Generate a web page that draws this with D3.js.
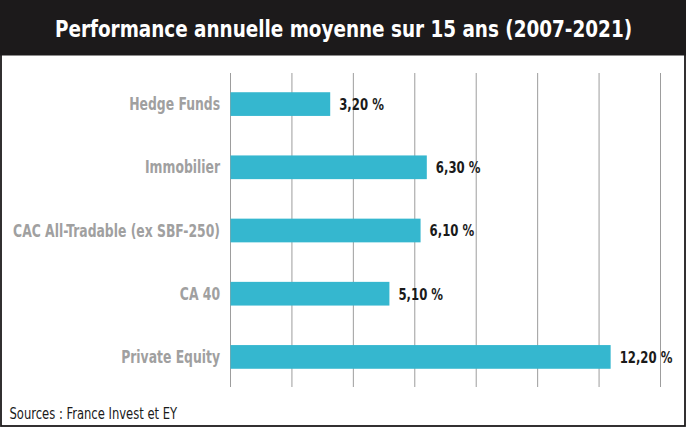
<!DOCTYPE html>
<html>
<head>
<meta charset="utf-8">
<script src="https://cdn.jsdelivr.net/npm/d3@7"></script>
<style>
  html, body { margin: 0; padding: 0; background: #fff; }
  svg { display: block; }
</style>
</head>
<body>
<svg id="chart" width="687" height="429"></svg>
<script>
// data
const categories = ["Hedge Funds", "Immobilier", "CAC All-Tradable (ex SBF-250)", "CA 40", "Private Equity"];
const values = [3.2, 6.3, 6.1, 5.1, 12.2];
const valueLabels = ["3,20 %", "6,30 %", "6,10 %", "5,10 %", "12,20 %"];
const titleText = "Performance annuelle moyenne sur 15 ans (2007-2021)";
const sourceText = "Sources : France Invest et EY";

let width = 687,
    height = 429,
    titleH = 55.5,
    left = 230.5,
    right = 660.5,
    gridTop = 73,
    gridBottom = 387;

const condensed = "'DejaVu Sans Condensed', 'DejaVu Sans', sans-serif";

let svg = d3.select("#chart");

// frame + title band
svg.append("rect")
    .attr("x", 1).attr("y", 1).attr("width", width - 3).attr("height", height - 4)
    .attr("fill", "#fff").attr("stroke", "#1c1a1b").attr("stroke-width", 1.8);
svg.append("rect")
    .attr("x", 0).attr("y", 0).attr("width", width - 1).attr("height", titleH)
    .attr("fill", "#1c1a1b");

// squeeze text horizontally, the original face is very narrow
function narrowText(sel, x, y, sx) {
    sel.attr("x", 0).attr("y", 0)
       .attr("transform", "translate(" + [x, y] + ") scale(" + sx + ",1)");
    return sel;
}

narrowText(svg.append("text"), width / 2, 36.5, 0.87)
    .attr("text-anchor", "middle")
    .attr("font-family", condensed)
    .attr("font-weight", "bold")
    .attr("font-size", 23.5)
    .attr("fill", "#fff")
    .text(titleText);

let xScale = d3.scaleLinear()
    .domain([0, 13.8])
    .range([left, right]);

let yScale = d3.scaleBand()
    .domain(categories)
    .range([72, 389])
    .paddingInner(0.625)
    .paddingOuter(0.32);

// vertical grid, 8 evenly spaced lines
let nGrid = 8;
let gridVals = d3.range(nGrid).map(i => xScale.domain()[1] * i / (nGrid - 1));
svg.append("g").selectAll("line").data(gridVals).enter().append("line")
    .attr("x1", d => xScale(d)).attr("x2", d => xScale(d))
    .attr("y1", gridTop).attr("y2", gridBottom)
    .attr("stroke", "#9d9d9d").attr("stroke-width", 1);

let rows = categories.map((c, i) => ({cat: c, val: values[i], lab: valueLabels[i]}));

svg.append("g").selectAll("rect").data(rows).enter().append("rect")
    .attr("x", xScale(0))
    .attr("y", d => yScale(d.cat))
    .attr("width", d => xScale(d.val) - xScale(0))
    .attr("height", yScale.bandwidth())
    .attr("fill", "#35b7cf");

// category labels
svg.append("g").selectAll("text").data(rows).enter().append("text")
    .each(function (d) {
        narrowText(d3.select(this), 220, yScale(d.cat) + yScale.bandwidth() / 2 + 6, 0.81);
    })
    .attr("text-anchor", "end")
    .attr("font-family", condensed)
    .attr("font-weight", "bold")
    .attr("font-size", 17)
    .attr("fill", "#a0a0a0")
    .text(d => d.cat);

// value labels
svg.append("g").selectAll("text").data(rows).enter().append("text")
    .each(function (d) {
        narrowText(d3.select(this), xScale(d.val) + 9, yScale(d.cat) + yScale.bandwidth() / 2 + 5.8, 0.84);
    })
    .attr("font-family", condensed)
    .attr("font-weight", "bold")
    .attr("font-size", 15.5)
    .attr("fill", "#1a1a1a")
    .text(d => d.lab);

narrowText(svg.append("text"), 9.5, 419, 0.78)
    .attr("font-family", condensed)
    .attr("font-size", 16.5)
    .attr("fill", "#1a1a1a")
    .text(sourceText);
</script>
</body>
</html>
